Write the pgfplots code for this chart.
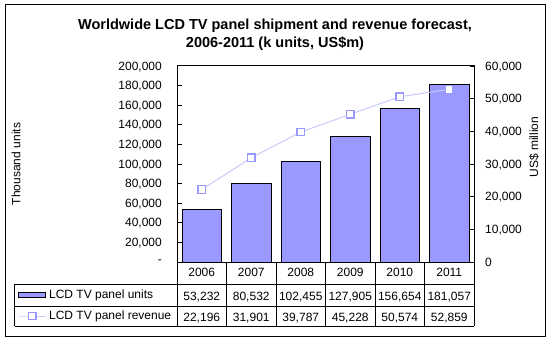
\documentclass[border=0pt]{standalone}
\usepackage{pgfplots}
\pgfplotsset{compat=1.18}
\usepackage{fontspec}
\setmainfont{Liberation Sans}
\definecolor{barcol}{RGB}{153,153,255}
\definecolor{linecol}{RGB}{200,200,250}
\definecolor{markcol}{RGB}{153,153,255}
\pgfplotsset{
  revlegend/.style={legend image code/.code={\draw[mark repeat=2, mark phase=2, ##1] plot coordinates {(0bp,0bp) (13.5bp,0bp) (27bp,0bp)};}},
  barlegend/.style={legend image code/.code={\draw[fill=barcol, draw=black, line width=1bp] (0bp,-2.75bp) rectangle (27bp,2.75bp);}},
}
\begin{document}
\fontsize{12bp}{14bp}\selectfont
\begin{tikzpicture}[x=1bp,y=1bp,font=\fontsize{12bp}{14bp}\selectfont]
\useasboundingbox (0,0) rectangle (549,341);
\draw[black, line width=1bp] (5.3,5) rectangle (545,336);
\node[font=\fontsize{14.5bp}{18bp}\selectfont\bfseries, align=center, anchor=north] at (275,326) {Worldwide LCD TV panel shipment and revenue forecast,\\2006-2011 (k units, US\$m)};
\node[rotate=90] at (16,177) {Thousand units};
\node[rotate=90] at (534,194) {US\$ million};
\begin{axis}[
  at={(177bp,79bp)}, anchor=south west,
  width=297bp, height=196bp, scale only axis,
  xmin=-0.5, xmax=5.5, ymin=0, ymax=200000,
  xtick=\empty, scaled y ticks=false,
  ytick={0,20000,40000,60000,80000,100000,120000,140000,160000,180000,200000},
  yticklabels={-,{20,000},{40,000},{60,000},{80,000},{100,000},{120,000},{140,000},{160,000},{180,000},{200,000}},
  ytick pos=left, tick align=inside, major tick length=4.5bp,
  yticklabel style={anchor=east, inner sep=0pt, xshift=-15bp, text depth=0pt, font=\fontsize{12bp}{14bp}\selectfont},
  axis line style={line width=1bp}, tick style={line width=1bp, black},
  clip=false,
]
\addplot[ybar, bar width=39.5bp, fill=barcol, draw=black, line width=1bp] coordinates {
(0,53232) (1,80532) (2,102455) (3,127905) (4,156654) (5,181057)};
\end{axis}
\begin{axis}[
  at={(177bp,79bp)}, anchor=south west,
  width=297bp, height=196bp, scale only axis,
  xmin=-0.5, xmax=5.5, ymin=0, ymax=60000,
  axis x line=none, axis y line*=right, scaled y ticks=false,
  ytick={0,10000,20000,30000,40000,50000,60000},
  yticklabels={0,{10,000},{20,000},{30,000},{40,000},{50,000},{60,000}},
  tick align=inside, major tick length=4.5bp,
  yticklabel style={anchor=west, inner sep=0pt, xshift=11bp, text depth=0pt, font=\fontsize{12bp}{14bp}\selectfont},
  axis line style={line width=1bp, -}, tick style={line width=1bp, black},
  clip=false,
  legend style={at={(-0.535,-0.1148)}, anchor=north west, draw=none, fill=none,
    inner sep=0pt, outer sep=0pt, row sep=0pt,
    nodes={inner xsep=3bp, inner ysep=0pt, minimum height=21bp, font=\fontsize{12bp}{14bp}\selectfont}},
  legend cell align=left,
]
\addlegendimage{barlegend}
\addlegendentry{LCD TV panel units}
\addplot[color=linecol, line width=1bp, mark=square*, mark size=3.8bp,
  mark options={fill=white, draw=markcol, line width=1.2bp}, revlegend]
  coordinates {(0,22196) (1,31901) (2,39787) (3,45228) (4,50574) (5,52859)};
\addlegendentry{LCD TV panel revenue}
\end{axis}
% data table grid
\draw[black, line width=1bp] (14.7,57) -- (474,57) (14.7,35) -- (474,35) (14.7,15) -- (474,15) (14.7,57) -- (14.7,15);
\foreach \k in {0,...,6} { \draw[black, line width=1bp] ({177+49.5*\k},79) -- ({177+49.5*\k},15); }
\foreach \yr [count=\i from 0] in {2006,2007,2008,2009,2010,2011} { \node[anchor=base] at ({177+49.5*(\i+0.5)},64.3) {\yr}; }
\foreach \v [count=\i from 0] in {{53,232},{80,532},{102,455},{127,905},{156,654},{181,057}} { \node[anchor=base] at ({177+49.5*(\i+0.5)},40.3) {\v}; }
\foreach \v [count=\i from 0] in {{22,196},{31,901},{39,787},{45,228},{50,574},{52,859}} { \node[anchor=base] at ({177+49.5*(\i+0.5)},20) {\v}; }
\end{tikzpicture}
\end{document}
